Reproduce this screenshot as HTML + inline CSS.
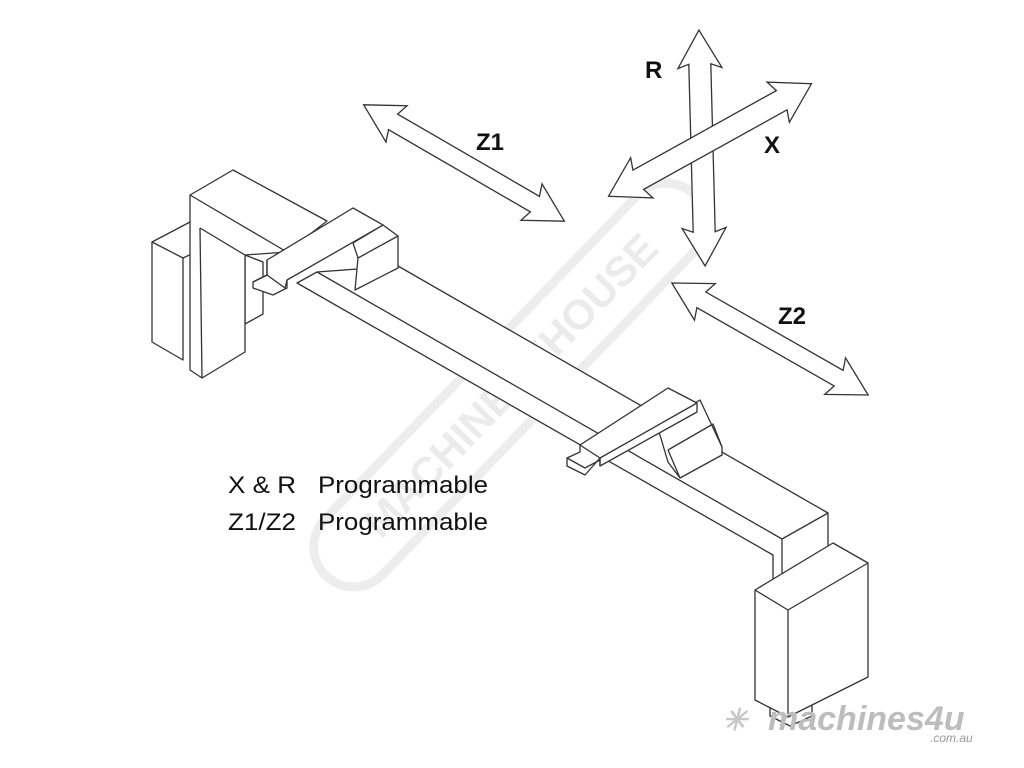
<!DOCTYPE html>
<html><head><meta charset="utf-8"><style>
html,body{margin:0;padding:0;background:#fff;}
svg{display:block}
</style></head><body>
<svg width="1024" height="768" viewBox="0 0 1024 768" xmlns="http://www.w3.org/2000/svg">
<!-- watermark -->
<g transform="translate(510,385) rotate(-46)">
<rect x="-265" y="-40" width="530" height="80" rx="40" fill="none" stroke="#ededed" stroke-width="9"/>
<text x="0" y="15" text-anchor="middle" font-family="Liberation Sans, sans-serif" font-weight="bold" font-size="42" fill="#ebebeb">MACHINERYHOUSE</text>
</g>
<g fill="#fff" stroke="#333" stroke-width="1.3" stroke-linejoin="miter">
<polygon transform="translate(464,163) rotate(30.1)" points="-116,0 -78,-21 -82,-9 82,-9 78,-21 116,0 78,21 82,9 -82,9 -78,21"/>
<polygon transform="translate(770,339) rotate(29.7)" points="-113,0 -75,-21 -79,-9 79,-9 75,-21 113,0 75,21 79,9 -79,9 -75,21"/>
<polygon transform="translate(702,148) rotate(88.5)" points="-118,0 -80,-22 -84,-11 84,-11 80,-22 118,0 80,22 84,11 -84,11 -80,22"/>
<polygon transform="translate(710,140) rotate(-29)" points="-116,0 -78,-23 -82,-11 82,-11 78,-23 116,0 78,23 82,11 -82,11 -78,23"/>
</g>
<g fill="#fff" stroke="#333" stroke-width="1.3" stroke-linejoin="round">
<polygon points="398,266 828,513 828,563 782,588 773,582 773,555 297,283 317,272"/>
<line x1="317" y1="272" x2="782" y2="539" />
<line x1="782" y1="539" x2="828" y2="513"/>
<line x1="782" y1="539" x2="782" y2="588"/>
<polygon points="770,700 812,700 812,716 790,726 770,716"/>
<polygon points="755,590 833,543 868,563 868,677 788,717 755,700"/>
<polyline points="755,590 788,610 868,563" fill="none"/>
<line x1="788" y1="610" x2="788" y2="717"/>
<polygon points="245,255 263,262 263,314 245,324"/>
<polygon points="152,242 190,222 200,228 200,250 183,258 183,360 152,342"/>
<line x1="152" y1="242" x2="183" y2="258"/>
<polygon points="190,195 233,170 327,221 287,252 245,255 245,352 202,378 190,370 190,240"/>
<polyline points="190,195 287,252" fill="none"/>
<polyline points="200,228 245,255" fill="none"/>
<line x1="200" y1="228" x2="202" y2="378"/>
<polygon points="267,260 353,208 383,225 287,280 287,288 273,295 253,288 253,282 267,275"/>
<polyline points="267,260 267,275 285,288 287,280" fill="none"/>
<polyline points="253,282 267,275" fill="none"/>
<polygon points="353,243 383,225 398,236 398,268 355,290 358,258"/>
<polyline points="358,258 398,236" fill="none"/>
<polygon points="657,425 700,400 722,447 722,455 680,478 668,462"/>
<polyline points="668,450 713,424 722,447" fill="none"/>
<line x1="668" y1="450" x2="680" y2="478"/>
<polygon points="580,445 668,388 697,403 697,412 600,466 600,458 585,475 567,466 567,458 580,452"/>
<polyline points="580,445 600,458 697,403" fill="none"/>
<line x1="600" y1="458" x2="600" y2="466"/>
<polyline points="567,458 585,468 600,460" fill="none"/>
</g>
<g font-family="Liberation Sans, Arial, sans-serif" font-weight="bold" fill="#111" font-size="24">
<text x="476" y="150">Z1</text>
<text x="778" y="324">Z2</text>
<text x="645" y="78">R</text>
<text x="764" y="153">X</text>
</g>
<g font-family="Liberation Sans, Arial, sans-serif" fill="#111" font-size="24">
<text x="228" y="493" textLength="68" lengthAdjust="spacingAndGlyphs">X &amp; R</text>
<text x="318" y="493" textLength="170" lengthAdjust="spacingAndGlyphs">Programmable</text>
<text x="228" y="530" textLength="68" lengthAdjust="spacingAndGlyphs">Z1/Z2</text>
<text x="318" y="530" textLength="170" lengthAdjust="spacingAndGlyphs">Programmable</text>
</g>
<g font-family="Liberation Sans, Arial, sans-serif" font-weight="bold" font-style="italic">
<text x="722" y="730" font-size="30" fill="#c8c8c8">✳</text>
<text x="768" y="730" font-size="34" fill="#bdbdbd">machines4u</text>
<text x="930" y="742" font-size="12" font-weight="normal" fill="#9a9a9a">.com.au</text>
</g>
</svg>
</body></html>
